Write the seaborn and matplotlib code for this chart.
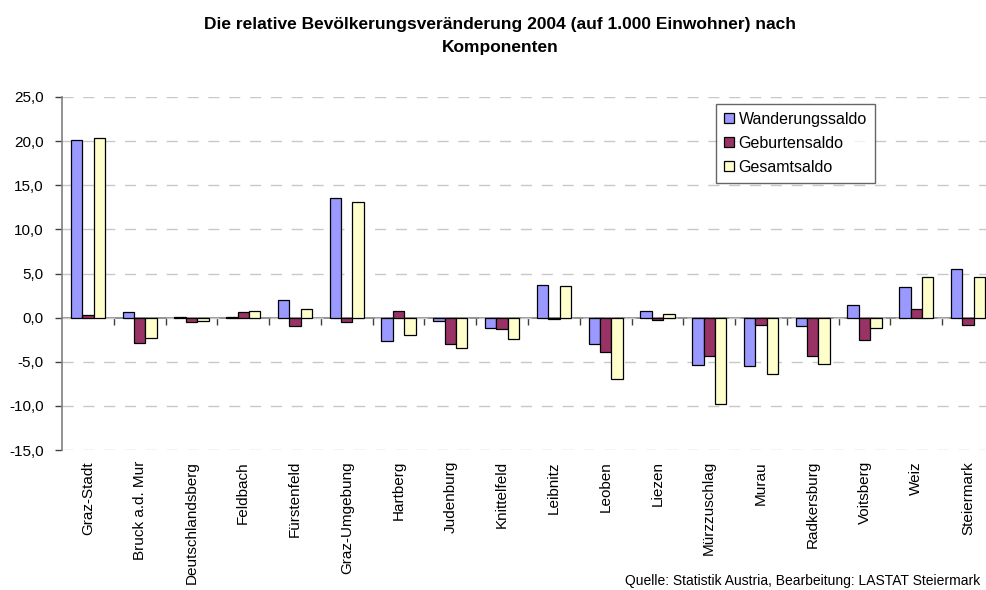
import numpy as np
import pandas as pd
import matplotlib
matplotlib.use("Agg")
import matplotlib.pyplot as plt
from matplotlib.ticker import FuncFormatter
import seaborn as sns

# data (per 1.000 inhabitants)
bezirke = ["Graz-Stadt", "Bruck a.d. Mur", "Deutschlandsberg", "Feldbach", "Fürstenfeld",
           "Graz-Umgebung", "Hartberg", "Judenburg", "Knittelfeld", "Leibnitz", "Leoben",
           "Liezen", "Mürzzuschlag", "Murau", "Radkersburg", "Voitsberg", "Weiz", "Steiermark"]
wanderungssaldo = [20.1, 0.6, 0.1, 0.1, 2.0, 13.5, -2.6, -0.4, -1.2, 3.7, -3.0,
                   0.8, -5.4, -5.5, -0.9, 1.4, 3.5, 5.5]
geburtensaldo = [0.3, -2.9, -0.5, 0.6, -0.9, -0.5, 0.7, -3.0, -1.3, -0.1, -3.9,
                 -0.3, -4.4, -0.8, -4.3, -2.5, 1.0, -0.8]
gesamtsaldo = [20.3, -2.3, -0.4, 0.7, 1.0, 13.1, -2.0, -3.4, -2.4, 3.6, -6.9,
               0.4, -9.8, -6.4, -5.3, -1.2, 4.6, 4.6]
serien = ["Wanderungssaldo", "Geburtensaldo", "Gesamtsaldo"]
farben = ["#9999ff", "#993366", "#ffffcc"]

df = pd.DataFrame({
    "Bezirk": bezirke * 3,
    "Wert": wanderungssaldo + geburtensaldo + gesamtsaldo,
    "Komponente": [s for s in serien for _ in bezirke],
})

sns.set_style("white")
plt.rcParams["font.family"] = ["Liberation Sans", "DejaVu Sans"]
plt.rcParams["text.color"] = "black"
plt.rcParams["xtick.color"] = "black"
plt.rcParams["ytick.color"] = "black"

fig = plt.figure(figsize=(9.87, 5.9), dpi=100)
ax = fig.add_axes([62 / 987, 1 - 450 / 590, 932 / 987, 353 / 590])

sns.barplot(data=df, x="Bezirk", y="Wert", hue="Komponente", order=bezirke,
            hue_order=serien, palette=farben, width=0.66, edgecolor="black",
            linewidth=0.9, saturation=1, errorbar=None, ax=ax)

ax.set_ylim(-15, 25)
ax.set_xlim(-0.5, len(bezirke) - 0.5)
ax.set_yticks(np.arange(-15, 26, 5))
ax.yaxis.set_major_formatter(FuncFormatter(lambda v, p: f"{v:.1f}".replace(".", ",")))
ax.yaxis.grid(True, color="#c8c8c8", linestyle=(0, (8, 7)), linewidth=1)
ax.set_axisbelow(True)
ax.set_xlabel("")
ax.set_ylabel("")

for s in ["top", "right", "bottom"]:
    ax.spines[s].set_visible(False)
ax.spines["left"].set_color("#808080")
ax.spines["left"].set_linewidth(1.2)
ax.tick_params(axis="y", left=True, length=5, width=1, color="#404040",
               labelsize=11, pad=8, labelcolor="black")
ax.tick_params(axis="x", bottom=False, length=0, labelsize=11, pad=8, labelcolor="black")
plt.setp(ax.get_xticklabels(), rotation=90, va="top", ha="center")

# category axis crossing at zero with ticks between the groups
nullachse = ax.secondary_xaxis(15 / 40)
nullachse.set_xticks(np.arange(0.5, len(bezirke) - 1, 1))
nullachse.set_xticklabels([])
nullachse.tick_params(length=5, width=1, color="#404040", direction="out")
nullachse.spines["bottom"].set_color("#808080")
nullachse.spines["bottom"].set_linewidth(1.2)

handles, labels = ax.get_legend_handles_labels()
ax.legend(handles, labels, loc="upper left", bbox_to_anchor=(0.702, 0.98),
          fontsize=11.5, frameon=True, fancybox=False, edgecolor="#404040",
          handlelength=0.6, handleheight=0.6, handletextpad=0.3,
          borderpad=0.5, labelspacing=0.55, borderaxespad=0, labelcolor="black")
ax.get_legend().get_frame().set_linewidth(1)

fig.text(0.507, 0.972, "Die relative Bevölkerungsveränderung 2004 (auf 1.000 Einwohner) nach\nKomponenten",
         ha="center", va="top", fontsize=12.5, fontweight="bold", linespacing=1.7,
         color="black")
fig.text(0.993, 0.004, "Quelle: Statistik Austria, Bearbeitung: LASTAT Steiermark",
         ha="right", va="bottom", fontsize=10, color="black")

fig.savefig("out.png", dpi=100)
